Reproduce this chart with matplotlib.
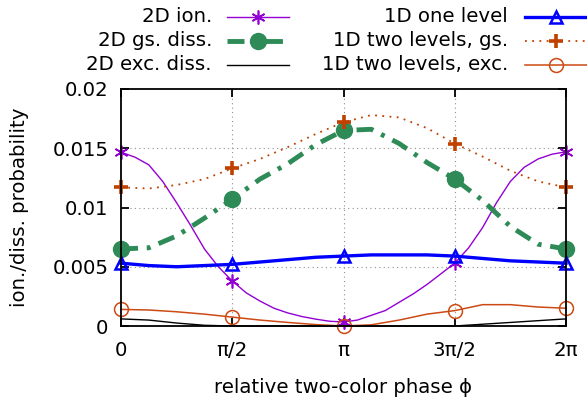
import numpy as np
import matplotlib
matplotlib.use("Agg")
import matplotlib.pyplot as plt
from matplotlib.lines import Line2D

# phase grid in steps of pi/8, ionisation curve sampled at pi/16
phase = np.arange(17) * np.pi / 8
phase_fine = np.arange(33) * np.pi / 16

ion_2d = [0.01467, 0.01425, 0.0136, 0.0122, 0.0104, 0.0085, 0.0065, 0.0050, 0.0038,
          0.0028, 0.0021, 0.0015, 0.0011, 0.0008, 0.00058, 0.0004, 0.00034,
          0.0005, 0.0009, 0.0013, 0.0020, 0.0027, 0.0035, 0.0044, 0.0053,
          0.0066, 0.0083, 0.0104, 0.0122, 0.0134, 0.0141, 0.0145, 0.0147]
gs_diss_2d = [0.0065, 0.0066, 0.0076, 0.0091, 0.0107, 0.0124, 0.0137, 0.0153, 0.0165,
              0.0166, 0.0154, 0.0138, 0.0124, 0.0106, 0.0084, 0.0069, 0.0065]
exc_diss_2d = [0.0006, 0.0005, 0.00025, 0.00006, 0.0, 0.0, 0.0, 0.0, 0.0,
               0.0, 0.0, 0.0, 0.0, 0.00015, 0.0003, 0.00045, 0.0006]
one_level_1d = [0.0053, 0.0051, 0.0050, 0.0051, 0.0052, 0.0054, 0.0056, 0.0058, 0.0059,
                0.0060, 0.0060, 0.0060, 0.0059, 0.0057, 0.0055, 0.0054, 0.0053]
two_gs_1d = [0.0117, 0.0116, 0.0119, 0.0124, 0.0133, 0.0141, 0.0151, 0.0162, 0.0172,
             0.0178, 0.0176, 0.0167, 0.0154, 0.0143, 0.0131, 0.0122, 0.0117]
two_exc_1d = [0.0014, 0.00135, 0.0012, 0.0010, 0.00075, 0.0005, 0.0003, 0.00012, 0.0,
              0.0001, 0.0005, 0.0010, 0.0013, 0.0018, 0.0018, 0.0016, 0.0015]

xticks = [0, np.pi / 2, np.pi, 3 * np.pi / 2, 2 * np.pi]
xticklabels = ["0", "π/2", "π", "3π/2", "2π"]
yticks = [0, 0.005, 0.01, 0.015, 0.02]
yticklabels = ["0", "0.005", "0.01", "0.015", "0.02"]

FS = 14.2
plt.rcParams['font.family'] = ['DejaVu Sans']
plt.rcParams['font.size'] = FS

W, H = 587, 401
fig = plt.figure(figsize=(W / 100, H / 100), dpi=100)
ax = fig.add_axes([121 / W, 1 - 326 / H, (566 - 121) / W, (326 - 89) / H])

purple = '#9400D3'
green = '#2E8B57'
blue = '#0000FF'
rust = '#C04000'
rust2 = '#CC4A14'

asterisk = (6, 2, 0)
styles = [
    dict(color=purple, lw=1.0, marker=asterisk, ms=10, mew=1.2),
    dict(color=green, lw=3.5, ls=(0, (3.5, 1.8, 0.8, 1.8)), marker='o', ms=11.5),
    dict(color='black', lw=1.0),
    dict(color=blue, lw=2.4, marker='^', ms=9, mfc='none', mew=1.8),
    dict(color=rust, lw=1.3, ls=(0, (1, 3)), marker='+', ms=10, mew=2.6),
    dict(color=rust2, lw=1.1, marker='o', ms=10, mfc='none', mew=1.1),
]
series = [(phase_fine, ion_2d, 8), (phase, gs_diss_2d, 4), (phase, exc_diss_2d, 4),
          (phase, one_level_1d, 4), (phase, two_gs_1d, 4), (phase, two_exc_1d, 4)]
names = ["2D ion.", "2D gs. diss.", "2D exc. diss.",
         "1D one level", "1D two levels, gs.", "1D two levels, exc."]

for (xs, vals, every), st in zip(series, styles):
    ax.plot(xs, vals, markevery=every, clip_on=False, **st)

ax.set_xlim(0, 2 * np.pi)
ax.set_ylim(0, 0.02)
ax.set_xticks(xticks)
ax.set_xticklabels(xticklabels)
ax.set_yticks(yticks)
ax.set_yticklabels(yticklabels)
ax.tick_params(axis='x', pad=11)
ax.tick_params(axis='y', pad=9)
ax.tick_params(direction='in', length=6, width=1.3, top=True, right=True)
for s in ax.spines.values():
    s.set_linewidth(1.3)
for xv in xticks[1:-1]:
    ax.axvline(xv, color='#909090', lw=0.8, ls=(0, (1, 3)), zorder=0)
for yv in yticks[1:-1]:
    ax.axhline(yv, color='#909090', lw=0.8, ls=(0, (1, 3)), zorder=0)

ax.set_xlabel("relative two-color phase ϕ", labelpad=13)
ax.set_ylabel("ion./diss. probability", labelpad=17)

# key above the plot: text right-aligned, line sample to its right
key = fig.add_axes([0, 0, 1, 1], facecolor='none')
key.set_xlim(0, W)
key.set_ylim(H, 0)
key.axis('off')
rows = [17, 41, 65]
cols = [(212, 227), (508, 525)]
for i, (name, st) in enumerate(zip(names, styles)):
    tx, lx = cols[i // 3]
    y = rows[i % 3]
    key.text(tx, y, name, ha='right', va='center', fontsize=FS)
    line_kw = {k: v for k, v in st.items() if k not in ('marker', 'ms', 'mew', 'mfc')}
    key.add_line(Line2D([lx, lx + 62], [y, y], **line_kw))
    if 'marker' in st:
        key.plot([lx + 31], [y], ls='none', marker=st['marker'], ms=st['ms'],
                 mew=st.get('mew', 1), mfc=st.get('mfc', st['color']), color=st['color'])

fig.savefig("out.png", dpi=100)
